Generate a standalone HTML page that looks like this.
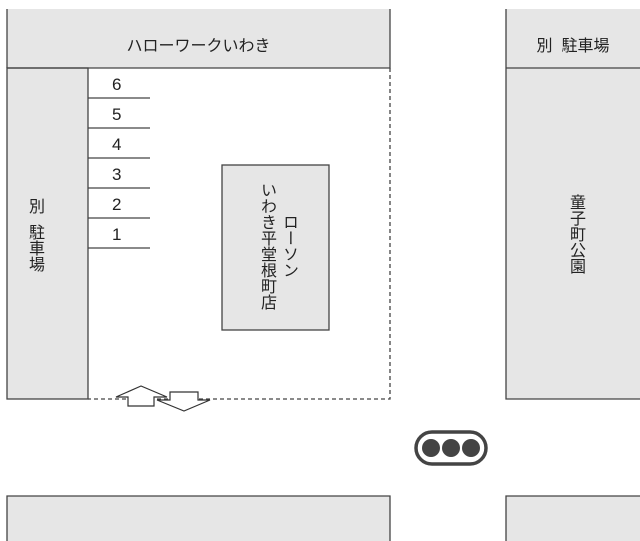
<!DOCTYPE html>
<html><head><meta charset="utf-8"><style>
html,body{margin:0;padding:0;background:#fff;width:640px;height:541px;overflow:hidden;position:relative;font-family:"Liberation Sans","Noto Sans CJK JP",sans-serif;color:#222}
.v{position:absolute;writing-mode:vertical-rl;font-size:16px;line-height:18px}
.t{position:absolute;font-size:16px}
.n{position:absolute;font-size:17px;left:112px}
</style></head><body>
<svg width="640" height="541" style="position:absolute;left:0;top:0">
<rect x="7" y="9" width="383" height="59" fill="#e6e6e6"/>
<rect x="7" y="68" width="81" height="331" fill="#e6e6e6" stroke="#444" stroke-width="1.3"/>
<rect x="506" y="9" width="140" height="390" fill="#e6e6e6"/>
<rect x="222" y="165" width="107" height="165" fill="#e6e6e6" stroke="#444" stroke-width="1.3"/>
<rect x="7" y="496" width="383" height="50" fill="#e6e6e6"/>
<rect x="506" y="496" width="140" height="50" fill="#e6e6e6"/>
<g fill="none" stroke="#444" stroke-width="1.3">
<path d="M7 68 H390 V9"/>
<path d="M506 9 V399 H640 M506 68 H640"/>
<path d="M7 541 V496 H390 V541"/>
<path d="M640 496 H506 V541"/>
<path d="M7 9 V68"/>
</g>
<g stroke="#444" stroke-width="1.3">
<line x1="88" y1="98" x2="150" y2="98"/><line x1="88" y1="128" x2="150" y2="128"/>
<line x1="88" y1="158" x2="150" y2="158"/><line x1="88" y1="188" x2="150" y2="188"/>
<line x1="88" y1="218" x2="150" y2="218"/><line x1="88" y1="248" x2="150" y2="248"/>
</g>
<path d="M390 68 V399 H88" fill="none" stroke="#444" stroke-width="1.3" stroke-dasharray="4,3"/>
<path d="M141 386 L116 397 H128 V406 H154 V397 H167 Z" fill="#fff" stroke="#333" stroke-width="1.2"/>
<path d="M170 392 H198 V400 H210 L184 411 L157 400 H170 Z" fill="#fff" stroke="#333" stroke-width="1.2"/>
<rect x="416" y="432" width="70" height="32" rx="16" fill="#fff" stroke="#444" stroke-width="3.5"/>
<circle cx="431" cy="448" r="9" fill="#444"/><circle cx="451" cy="448" r="9" fill="#444"/><circle cx="471" cy="448" r="9" fill="#444"/>
</svg>
<div class="t" style="left:0;width:397px;top:32px;text-align:center">ハローワークいわき</div>
<div class="t" style="left:506px;width:134px;top:32px;text-align:center">別&nbsp;&nbsp;駐車場</div>
<div class="n" style="top:75px">6</div>
<div class="n" style="top:105px">5</div>
<div class="n" style="top:135px">4</div>
<div class="n" style="top:165px">3</div>
<div class="n" style="top:195px">2</div>
<div class="n" style="top:225px">1</div>
<div class="v" style="left:25px;top:198px">別</div>
<div class="v" style="left:25px;top:224px">駐車場</div>
<div class="v" style="left:257px;top:182px">いわき平堂根町店</div>
<div class="v" style="left:279px;top:214px">ローソン</div>
<div class="v" style="left:566px;top:194px">童子町公園</div>
</body></html>
